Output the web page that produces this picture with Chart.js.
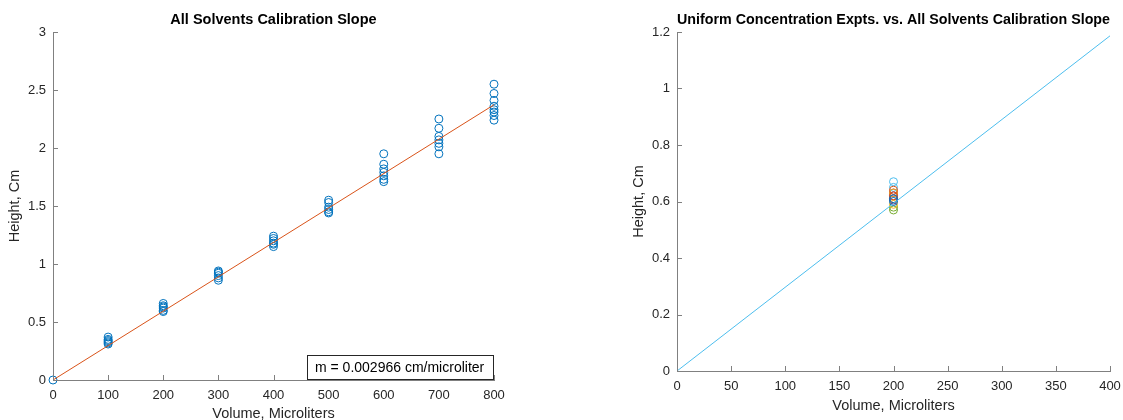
<!DOCTYPE html>
<html>
<head>
<meta charset="utf-8">
<script src="https://cdn.jsdelivr.net/npm/chart.js@4"></script>
<style>
  html, body { margin: 0; padding: 0; background: #fff; }
  #wrap { position: relative; width: 1123px; height: 420px; }
  canvas { position: absolute; top: 0; }
  #calChart { left: 0; }
  #uniChart { left: 560px; }
</style>
</head>
<body>
<div id="wrap">
  <canvas id="calChart" width="560" height="420"></canvas>
  <canvas id="uniChart" width="563" height="420"></canvas>
</div>
<script>
// Calibration runs: volume (µL) and the measured heights (cm) at each volume
const calVolumes = [0, 100, 200, 300, 400, 500, 600, 700, 800];
const calHeights = [
  [0],
  [0.37, 0.35, 0.34, 0.33, 0.32, 0.31],
  [0.66, 0.64, 0.63, 0.62, 0.60, 0.59],
  [0.94, 0.93, 0.92, 0.90, 0.88, 0.86],
  [1.24, 1.22, 1.20, 1.18, 1.17, 1.15],
  [1.55, 1.53, 1.49, 1.47, 1.45, 1.44],
  [1.95, 1.86, 1.82, 1.79, 1.76, 1.73, 1.71],
  [2.25, 2.17, 2.10, 2.07, 2.04, 2.01, 1.95],
  [2.55, 2.47, 2.41, 2.36, 2.33, 2.31, 2.28, 2.24]
];
const slope = 0.002966; // cm per microliter
const fitRange = [0, 800];
const uniformRange = [0, 400];

// Uniform concentration experiments, all at 200 µL
const uniformVolume = 200;
const uniformHeights = [
  [0.61, 0.60],
  [0.64, 0.62],
  [0.63, 0.59],
  [0.62, 0.605],
  [0.57, 0.58],
  [0.67, 0.65],
  [0.63, 0.61]
];
const uniformColors = ['#0072BD', '#D95319', '#EDB120', '#7E2F8E', '#77AC30', '#4DBEEE', '#A2142F'];

const leftYTicks = [0, 0.5, 1, 1.5, 2, 2.5, 3];
const leftXTicks = [0, 100, 200, 300, 400, 500, 600, 700, 800];
const rightYTicks = [0, 0.2, 0.4, 0.6, 0.8, 1, 1.2];
const rightXTicks = [0, 50, 100, 150, 200, 250, 300, 350, 400];

const FONT = '"Liberation Sans", Arial, Helvetica, sans-serif';
const TEXT = '#262626';
const AXIS = '#808080';

// MATLAB-style tick marks pointing into the plot area, plus an optional text box
const innerTicks = {
  id: 'innerTicks',
  afterDraw(chart, args, opts) {
    const {ctx, chartArea} = chart;
    const xs = chart.scales.x, ys = chart.scales.y;
    const len = 5;
    ctx.save();
    ctx.strokeStyle = AXIS;
    ctx.lineWidth = 1;
    ctx.beginPath();
    xs.ticks.forEach(t => {
      const px = Math.round(xs.getPixelForValue(t.value)) + 0.5;
      ctx.moveTo(px, chartArea.bottom);
      ctx.lineTo(px, chartArea.bottom - len);
    });
    ys.ticks.forEach(t => {
      const py = Math.round(ys.getPixelForValue(t.value)) + 0.5;
      ctx.moveTo(chartArea.left, py);
      ctx.lineTo(chartArea.left + len, py);
    });
    ctx.stroke();
    if (opts && opts.boxText) {
      const w = 187, h = 25;
      const x0 = chartArea.right - w, y0 = chartArea.bottom - h;
      ctx.fillStyle = '#fff';
      ctx.fillRect(x0, y0, w, h);
      ctx.strokeStyle = '#262626';
      ctx.strokeRect(x0 + 0.5, y0 + 0.5, w - 1, h - 1);
      ctx.fillStyle = '#000';
      ctx.font = '14px ' + FONT;
      ctx.textBaseline = 'middle';
      ctx.textAlign = 'left';
      ctx.fillText(opts.boxText, x0 + 8, y0 + h / 2 + 1);
    }
    ctx.restore();
  }
};

function fixedTicks(list) {
  return function (scale) {
    scale.ticks = list.map(v => ({value: v}));
  };
}

function axes(xMax, yMax, xTicks, yTicks, xHeight) {
  const common = {
    type: 'linear',
    grid: {display: false, drawTicks: false},
    border: {display: true, color: AXIS, width: 1}
  };
  return {
    x: Object.assign({}, common, {
      min: 0, max: xMax,
      afterBuildTicks: fixedTicks(xTicks),
      afterFit(s) { s.height = xHeight; s.paddingLeft = 0; s.paddingRight = 0; },
      ticks: {color: TEXT, font: {family: FONT, size: 13}, padding: 8, maxRotation: 0, autoSkip: false,
              callback: v => String(v)},
      title: {display: true, text: 'Volume, Microliters', color: TEXT,
              font: {family: FONT, size: 14.5, lineHeight: 1}, padding: {top: 0, bottom: -1}}
    }),
    y: Object.assign({}, common, {
      min: 0, max: yMax,
      afterBuildTicks: fixedTicks(yTicks),
      afterFit(s) { s.width = 53; s.paddingTop = 0; s.paddingBottom = 0; },
      ticks: {color: TEXT, font: {family: FONT, size: 13}, padding: 7, autoSkip: false,
              callback: v => String(Math.round(v * 10) / 10)},
      title: {display: true, text: 'Height, Cm', color: TEXT,
              font: {family: FONT, size: 14.5, lineHeight: 1}, padding: {top: 8, bottom: 0}}
    })
  };
}

function titleOpts(text) {
  return {
    display: true, text, color: '#000', fullSize: false,
    font: {family: FONT, size: 14.5, weight: 'bold', lineHeight: 1.2},
    padding: {top: 11, bottom: 3.6}
  };
}

// Left: all calibration points and the fitted slope
const calPoints = [];
calVolumes.forEach((v, i) => calHeights[i].forEach(h => calPoints.push({x: v, y: h})));

new Chart(document.getElementById('calChart'), {
  type: 'scatter',
  data: {
    datasets: [
      {
        data: calPoints,
        pointStyle: 'circle', pointRadius: 4, pointBorderWidth: 1,
        borderColor: '#0072BD', backgroundColor: 'rgba(0,0,0,0)',
        clip: false, order: 2
      },
      {
        type: 'line',
        data: fitRange.map(v => ({x: v, y: slope * v})),
        borderColor: '#D95319', borderWidth: 1, pointRadius: 0, fill: false,
        order: 1
      }
    ]
  },
  options: {
    responsive: false, animation: false, devicePixelRatio: 1,
    layout: {padding: {left: 0, right: 66, top: 0, bottom: 0}},
    plugins: {
      legend: {display: false}, tooltip: {enabled: false},
      title: titleOpts('All Solvents Calibration Slope'),
      innerTicks: {boxText: 'm = 0.002966 cm/microliter'}
    },
    scales: axes(800, 3, leftXTicks, leftYTicks, 40)
  },
  plugins: [innerTicks]
});

// Right: uniform concentration runs against the calibration slope
const uniDatasets = uniformHeights.map((hs, i) => ({
  data: hs.map(h => ({x: uniformVolume, y: h})),
  pointStyle: 'circle', pointRadius: 4, pointBorderWidth: 1,
  borderColor: uniformColors[i], backgroundColor: 'rgba(0,0,0,0)',
  order: 2
}));
uniDatasets.push({
  type: 'line',
  data: uniformRange.map(v => ({x: v, y: slope * v})),
  borderColor: '#4DBEEE', borderWidth: 1, pointRadius: 0, fill: false,
  order: 1
});

new Chart(document.getElementById('uniChart'), {
  type: 'scatter',
  data: {datasets: uniDatasets},
  options: {
    responsive: false, animation: false, devicePixelRatio: 1,
    layout: {padding: {left: 64, right: 13, top: 0, bottom: 8}},
    plugins: {
      legend: {display: false}, tooltip: {enabled: false},
      title: titleOpts('Uniform Concentration Expts. vs. All Solvents Calibration Slope'),
      innerTicks: {}
    },
    scales: axes(400, 1.2, rightXTicks, rightYTicks, 41)
  },
  plugins: [innerTicks]
});
</script>
</body>
</html>
